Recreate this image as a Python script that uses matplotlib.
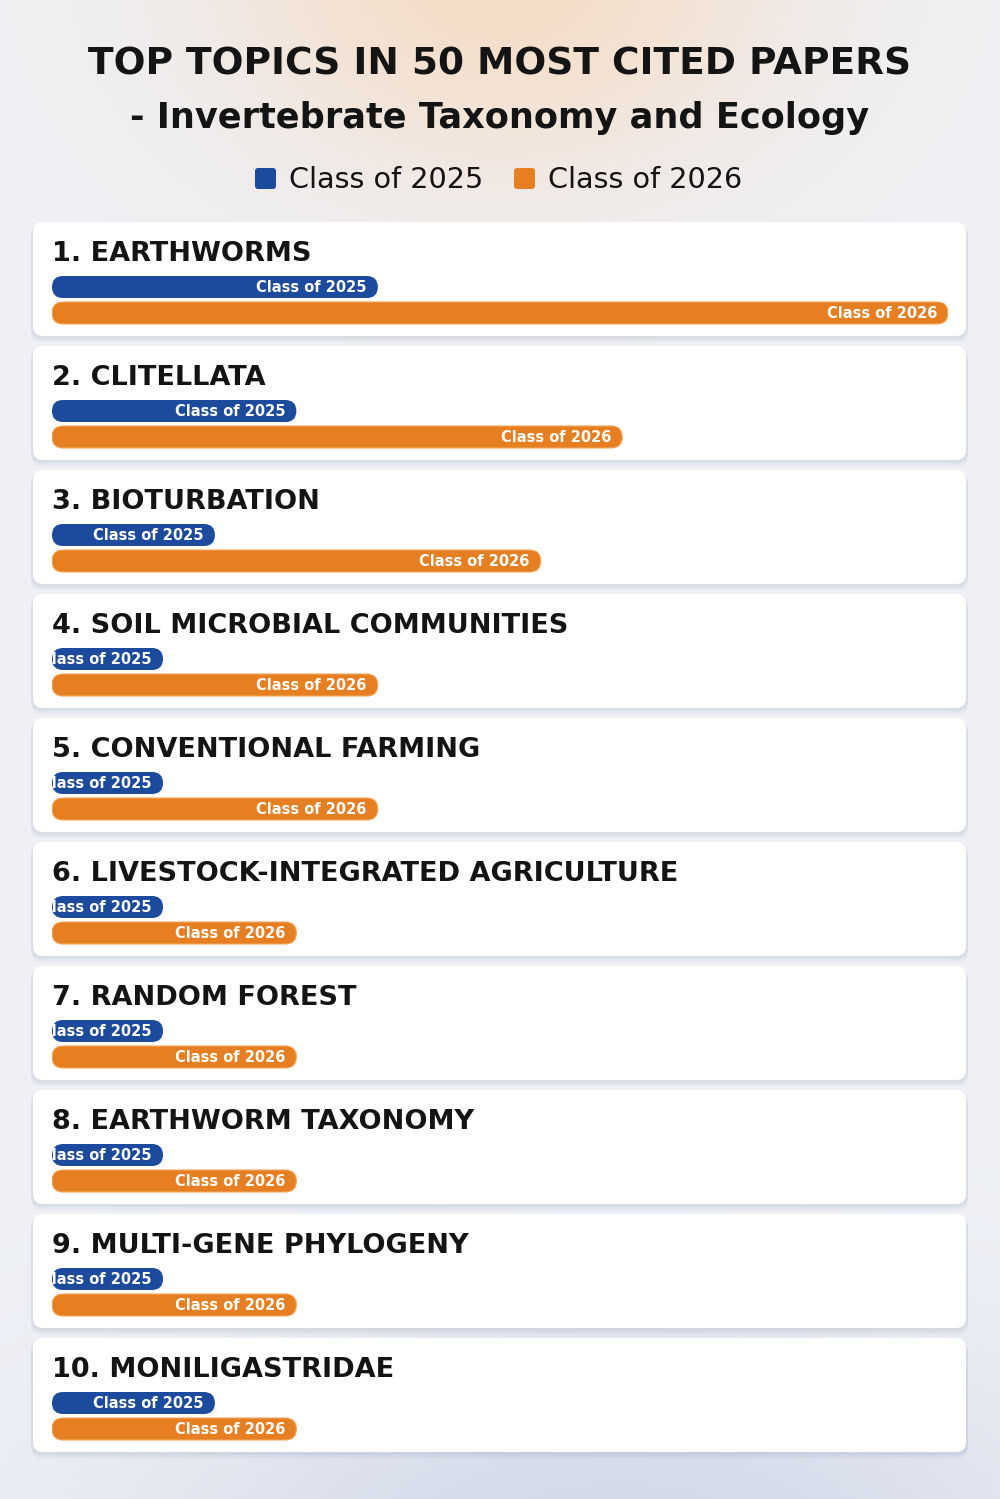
import numpy as np
import matplotlib
matplotlib.use("Agg")
import matplotlib.pyplot as plt
from matplotlib.patches import FancyBboxPatch

# ---------------- data ----------------
title_line1 = "TOP TOPICS IN 50 MOST CITED PAPERS"
title_line2 = "- Invertebrate Taxonomy and Ecology"
series_names = ["Class of 2025", "Class of 2026"]
topics = ["EARTHWORMS", "CLITELLATA", "BIOTURBATION", "SOIL MICROBIAL COMMUNITIES",
          "CONVENTIONAL FARMING", "LIVESTOCK-INTEGRATED AGRICULTURE", "RANDOM FOREST",
          "EARTHWORM TAXONOMY", "MULTI-GENE PHYLOGENY", "MONILIGASTRIDAE"]
class_2025 = [4, 3, 2, 1, 1, 1, 1, 1, 1, 2]
class_2026 = [11, 7, 6, 4, 4, 3, 3, 3, 3, 3]

# ---------------- style ----------------
W, H = 1000, 1499
BLUE = "#1c4a9c"
ORANGE = "#e67e22"
TXT = "#141414"
FONT = "DejaVu Sans"

fig = plt.figure(figsize=(W / 100, H / 100), dpi=100)

# background gradient
bg = fig.add_axes([0, 0, 1, 1])
bg.set_axis_off()
yy, xx = np.mgrid[0:H, 0:W]
base = np.array([0.937, 0.945, 0.965])
peach = np.array([0.96, 0.865, 0.78])
blue = np.array([0.79, 0.825, 0.895])
g1 = np.exp(-(((xx - 500) / 300.0) ** 2 + ((yy + 30) / 220.0) ** 2))[..., None]
g2 = np.exp(-(((xx - 620) / 480.0) ** 2 + ((yy - 1560) / 230.0) ** 2))[..., None]
img = base * (1 - g1) + peach * g1
img = img * (1 - 0.8 * g2) + blue * 0.8 * g2
bg.imshow(img, extent=[0, W, H, 0], aspect="auto", zorder=0)
bg.set_xlim(0, W)
bg.set_ylim(H, 0)

# overlay axes in pixel coordinates for cards and text
ax = fig.add_axes([0, 0, 1, 1])
ax.set_xlim(0, W)
ax.set_ylim(H, 0)
ax.set_axis_off()
ax.patch.set_alpha(0)

ax.text(500, 74, title_line1, ha="center", va="baseline", fontsize=27,
        fontweight="black", color=TXT, family=FONT)
ax.text(500, 128, title_line2, ha="center", va="baseline", fontsize=25.3,
        fontweight="bold", color=TXT, family=FONT)

# legend
leg_items = [(255, series_names[0], BLUE), (514, series_names[1], ORANGE)]
for x0, name, col in leg_items:
    ax.add_patch(FancyBboxPatch((x0, 168), 21, 21, boxstyle="round,pad=0,rounding_size=3",
                                facecolor=col, edgecolor="none"))
    ax.text(x0 + 34, 188, name, ha="left", va="baseline", fontsize=20.6,
            color=TXT, family=FONT)

# cards
CARD_X0, CARD_X1 = 33, 966
CARD_TOP0, CARD_PITCH, CARD_H = 222, 124, 114
for i, topic in enumerate(topics):
    y0 = CARD_TOP0 + i * CARD_PITCH
    for k, (dy, a) in enumerate([(6, 0.035), (4, 0.045), (2, 0.06)]):
        ax.add_patch(FancyBboxPatch((CARD_X0 - 2, y0 + dy - 1), CARD_X1 - CARD_X0 + 4, CARD_H + 2,
                                    boxstyle="round,pad=0,rounding_size=12",
                                    facecolor="#5a6a8a", alpha=a, edgecolor="none"))
    ax.add_patch(FancyBboxPatch((CARD_X0, y0), CARD_X1 - CARD_X0, CARD_H,
                                boxstyle="round,pad=0,rounding_size=10",
                                facecolor="white", edgecolor="none"))
    ax.text(52, y0 + 39, f"{i + 1}. {topic}", ha="left", va="baseline", fontsize=19.5,
            fontweight="bold", color=TXT, family=FONT)

# bar axes: values mapped through the x scale
BAR_L, BAR_R = 52, 948
bax = fig.add_axes([BAR_L / W, 0, (BAR_R - BAR_L) / W, 1])
bax.set_axis_off()
bax.patch.set_alpha(0)
xmax = max(max(class_2025), max(class_2026))
bax.set_xlim(0, xmax)
bax.set_ylim(H, 0)
px_per_unit = (BAR_R - BAR_L) / xmax
MIN_BAR = 111 / px_per_unit
BAR_H = 22
for i in range(len(topics)):
    y0 = CARD_TOP0 + i * CARD_PITCH
    for j, (vals, col, name) in enumerate([(class_2025, BLUE, series_names[0]),
                                            (class_2026, ORANGE, series_names[1])]):
        yc = y0 + 65 + j * 26
        w = max(vals[i], MIN_BAR)
        edge = "#f3a65a" if j == 1 else "none"
        p = FancyBboxPatch((0, yc - BAR_H / 2), w, BAR_H,
                           boxstyle=f"round,pad=0,rounding_size={BAR_H / 2 / px_per_unit}",
                           mutation_aspect=px_per_unit, facecolor=col,
                           edgecolor=edge, linewidth=0.8)
        bax.add_patch(p)
        t = bax.annotate(name, xy=(w, yc), xytext=(-8, 0), textcoords="offset points",
                         ha="right", va="center", fontsize=10.5, fontweight="bold",
                         color="white", family=FONT)
        t.set_clip_path(p)

fig.savefig("out.png", dpi=100)
